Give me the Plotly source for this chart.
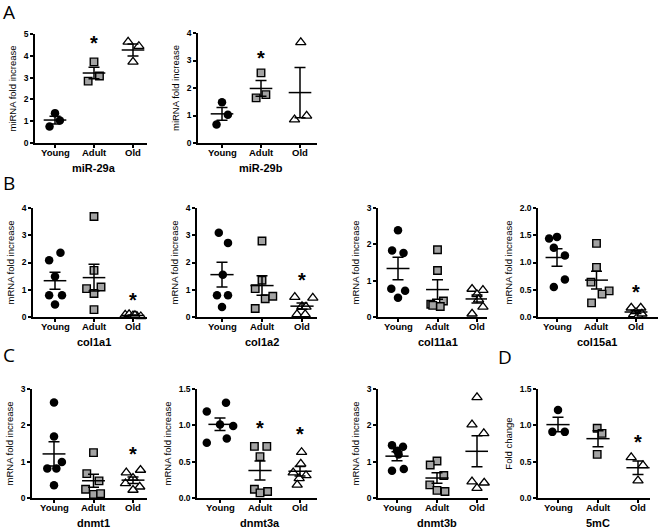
import numpy as np
import plotly.graph_objects as go

W, H = 660, 529

groups = ["Young", "Adult", "Old"]

# values (fold increase per animal)
mir29a = [[1.37, 1.03, 0.76], [3.72, 2.84, 3.07], [4.64, 4.44, 3.72]]
mir29b = [[1.48, 1.03, 0.67], [2.55, 1.64, 1.76], [3.66, 0.85, 0.99]]
col1a1 = [[2.08, 2.36, 1.49, 0.80, 0.80, 0.46],
          [3.69, 1.71, 1.04, 1.10, 0.86, 0.27],
          [0.08, 0.10, 0.05, 0.03, 0.02, 0.06]]
col1a2 = [[3.09, 2.72, 1.55, 0.80, 0.80, 0.37],
          [2.79, 1.35, 1.04, 0.67, 0.76, 0.31],
          [0.73, 0.70, 0.39, 0.37, 0.10, 0.10]]
col11a1 = [[2.39, 1.83, 1.76, 0.78, 0.72, 0.53],
           [1.85, 1.28, 0.35, 0.44, 0.29, 0.32],
           [0.77, 0.74, 0.62, 0.48, 0.09, 0.28]]
col15a1 = [[1.44, 1.47, 1.27, 1.13, 0.69, 0.55],
           [1.35, 0.91, 0.64, 0.48, 0.42, 0.26],
           [0.17, 0.17, 0.08, 0.05, 0.02, 0.06]]
dnmt1 = [[2.63, 1.69, 0.99, 0.81, 0.81, 0.35],
         [1.25, 0.67, 0.47, 0.24, 0.10, 0.12],
         [0.70, 0.77, 0.55, 0.40, 0.31, 0.22]]
dnmt3a = [[1.31, 1.19, 1.01, 0.99, 0.82, 0.76],
          [0.71, 0.71, 0.57, 0.12, 0.09, 0.07],
          [0.63, 0.47, 0.35, 0.31, 0.27, 0.18]]
dnmt3b = [[1.45, 1.41, 1.30, 1.20, 0.75, 0.80],
          [1.02, 0.91, 0.62, 0.36, 0.21, 0.18],
          [2.77, 2.02, 1.78, 0.45, 0.42, 0.27]]
mc5 = [[1.21, 0.91, 0.91], [0.96, 0.89, 0.60], [0.56, 0.45, 0.24]]

# layout of each panel: data, title, y title, axis max, dtick, tick format,
# pixel box (y-axis x, young x, old x, x end, bottom y, top y),
# jitter per point, star positions (group, y)
panels = [
    dict(d=mir29a, t="miR-29a", yt="miRNA fold increase", ymax=5, dt=1, fmt="d",
         box=(35, 55, 133, 147, 143, 34),
         jit=[[0, .125, -.14], [0, -.15, .14], [-.125, .15, 0]],
         stars=[(1, 4.6), (2, 5.35)]),
    dict(d=mir29b, t="miR-29b", yt="miRNA fold increase", ymax=4, dt=1, fmt="d",
         box=(198, 222, 300, 317, 143, 33),
         jit=[[0, .15, -.14], [0, -.125, .125], [.02, -.14, .17]],
         stars=[(1, 3.1)]),
    dict(d=col1a1, t="col1a1", yt="mRNA fold increase", ymax=4, dt=1, fmt="d",
         box=(33, 55, 133, 147, 317, 208),
         jit=[[-.15, .14, 0, -.15, .18, 0], [0, 0, -.19, .18, 0, 0],
              [-.2, -.1, 0, .1, .2, .05]],
         stars=[(2, 0.62)]),
    dict(d=col1a2, t="col1a2", yt="mRNA fold increase", ymax=4, dt=1, fmt="d",
         box=(197, 222, 302, 317, 317, 208),
         jit=[[-.08, .15, .02, -.125, .15, 0], [0, 0, -.17, .08, .27, -.17],
              [-.18, .27, 0, .1, -.125, .08]],
         stars=[(2, 1.36)]),
    dict(d=col11a1, t="col11a1", yt="mRNA fold increase", ymax=3, dt=1, fmt="d",
         box=(378, 398, 477, 487, 317, 208),
         jit=[[0, -.15, .14, -.17, .18, 0], [0, 0, -.17, .15, .07, -.12],
              [-.125, .15, 0, .04, -.125, .15]],
         stars=[]),
    dict(d=col15a1, t="col15a1", yt="mRNA fold increase", ymax=2, dt=.5, fmt=".1f",
         box=(538, 557, 636, 658, 317, 208),
         jit=[[-.2, 0, -.08, .2, .2, -.08], [0, 0, -.14, .32, .14, -.125],
              [-.12, .12, 0, -.06, .06, .15]],
         stars=[(2, 0.46)]),
    dict(d=dnmt1, t="dnmt1", yt="mRNA fold increase", ymax=3, dt=1, fmt="d",
         box=(32, 54, 133, 147, 498, 389),
         jit=[[0, 0, .2, -.17, .06, 0], [0, -.17, .14, -.2, 0, .18],
              [-.17, .19, 0, -.19, .17, 0]],
         stars=[(2, 1.22)]),
    dict(d=dnmt3a, t="dnmt3a", yt="mRNA fold increase", ymax=1.5, dt=.5, fmt=".1f",
         box=(197, 220, 300, 317, 498, 389),
         jit=[[.15, -.33, 0, .33, .17, -.33], [-.14, .17, 0, -.14, .19, 0],
              [.04, .02, -.17, .15, -.02, -.07]],
         stars=[(1, 0.97), (2, 0.88)]),
    dict(d=dnmt3b, t="dnmt3b", yt="mRNA fold increase", ymax=3, dt=1, fmt="d",
         box=(378, 397, 477, 488, 498, 389),
         jit=[[-.125, .15, 0, .04, -.125, .17], [0, -.17, .17, -.18, 0, .2],
              [0, -.125, .17, -.125, .18, 0]],
         stars=[]),
    dict(d=mc5, t="5mC", yt="Fold change", ymax=1.5, dt=.5, fmt=".1f",
         box=(538, 558, 638, 650, 498, 389),
         jit=[[0, -.14, .17], [-.02, .1, -.02], [-.17, .125, 0]],
         stars=[(2, 0.77)]),
]

markers = [
    dict(symbol="circle", size=8.5, color="black", line=dict(width=0)),
    dict(symbol="square", size=7.5, color="#a3a3a3", line=dict(width=1.4, color="black")),
    dict(symbol="triangle-up", size=9, color="white", line=dict(width=1.3, color="black")),
]

label_font = dict(family="Liberation Sans", size=9.5, color="black", weight="bold")

fig = go.Figure()
annotations = []

for k, p in enumerate(panels, start=1):
    ax0, yp, op, xend, yb, ytop = p["box"]
    s = (op - yp) / 2
    xr = [(ax0 - yp) / s, (xend - yp) / s]
    xa = "x" if k == 1 else f"x{k}"
    ya = "y" if k == 1 else f"y{k}"
    for g, vals in enumerate(p["d"]):
        vals = np.array(vals)
        xs = g + np.array(p["jit"][g])
        fig.add_trace(go.Scatter(
            x=xs, y=vals, mode="markers", marker=markers[g],
            cliponaxis=False, showlegend=False, xaxis=xa, yaxis=ya,
        ))
        mean = vals.mean()
        sem = vals.std(ddof=1) / np.sqrt(len(vals))
        fig.add_trace(go.Scatter(
            x=[g - 0.29, g + 0.29], y=[mean, mean], mode="lines",
            line=dict(color="black", width=1.5),
            cliponaxis=False, showlegend=False, xaxis=xa, yaxis=ya,
        ))
        fig.add_trace(go.Scatter(
            x=[g], y=[mean], mode="markers", marker=dict(size=1, opacity=0),
            error_y=dict(type="data", array=[sem], width=5.5, thickness=1.5,
                         color="black"),
            cliponaxis=False, showlegend=False, xaxis=xa, yaxis=ya,
        ))
        # category label just under the axis
        annotations.append(dict(
            x=g, y=1 - (yb + 9) / H, xref=xa, yref="paper", text=groups[g],
            showarrow=False, xanchor="center", yanchor="middle",
            font=label_font,
        ))
    for g, sy in p["stars"]:
        annotations.append(dict(
            x=g, y=sy, xref=xa, yref=ya, text="*", showarrow=False,
            font=dict(family="Liberation Sans", size=20, color="black",
                      weight="bold"),
            yanchor="middle",
        ))
    fig.layout[f"xaxis{'' if k == 1 else k}"] = dict(
        domain=[ax0 / W, xend / W], range=xr, anchor=ya, automargin=False,
        tickvals=[0, 1, 2], showticklabels=False, showline=True,
        linecolor="black", linewidth=1.5, ticks="outside", ticklen=3,
        tickwidth=1.5, tickcolor="black", showgrid=False, zeroline=False,
        fixedrange=True,
    )
    fig.layout[f"yaxis{'' if k == 1 else k}"] = dict(
        domain=[1 - yb / H, 1 - ytop / H], range=[0, p["ymax"]], anchor=xa,
        automargin=False,
        dtick=p["dt"], tickformat=p["fmt"], showline=True, linecolor="black",
        linewidth=1.5, ticks="outside", ticklen=3, tickwidth=1.5,
        tickcolor="black", showgrid=False, zeroline=False,
        tickfont=dict(family="Liberation Sans", size=8.5, color="black",
                      weight="bold"),
        title=dict(text=p["yt"], standoff=5,
                   font=dict(family="Liberation Sans", size=9.5, color="black")),
    )
    # panel title below the axis
    annotations.append(dict(
        x=(yp + op) / 2 / W, y=1 - (yb + 25) / H, xref="paper", yref="paper",
        text=p["t"], showarrow=False, xanchor="center", yanchor="middle",
        font=dict(family="Liberation Sans", size=11, color="black",
                  weight="bold"),
    ))

letters = [("A", 9, 12), ("B", 9, 183), ("C", 9, 355), ("D", 505, 357)]
for txt, lx, ly in letters:
    annotations.append(dict(
        x=lx / W, y=1 - ly / H, xref="paper", yref="paper", text=txt,
        showarrow=False, xanchor="center", yanchor="middle",
        font=dict(family="Open Sans", size=19, color="black"),
    ))

fig.update_layout(
    width=W, height=H, margin=dict(l=0, r=0, t=0, b=0),
    paper_bgcolor="white", plot_bgcolor="white",
    annotations=annotations, showlegend=False,
)

# the page body has a default 8px margin; drop it so the figure sits at 0,0
fig.write_html("out.html", config={"displayModeBar": False},
               post_script="document.body.style.margin='0';")
